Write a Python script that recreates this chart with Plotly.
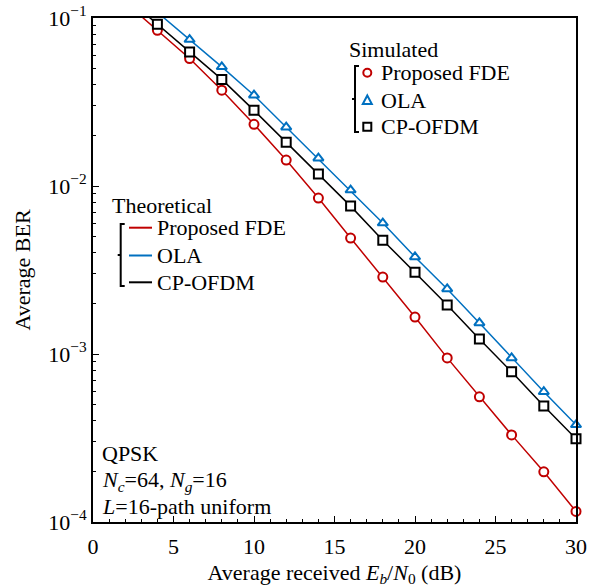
import plotly.graph_objects as go

# ---------------- data ----------------
snr_sim = [4, 6, 8, 10, 12, 14, 16, 18, 20, 22, 24, 26, 28, 30]
ber_sim_fde = [0.0845, 0.0574, 0.0372, 0.0233, 0.01426, 0.00848, 0.0049, 0.00287,
               0.00166, 0.000948, 0.000556, 0.000330, 0.000199, 0.0001156]
ber_sim_cp = [0.0917, 0.0628, 0.0431, 0.0282, 0.01823, 0.01177, 0.00759, 0.00476,
              0.00307, 0.00196, 0.00123, 0.000783, 0.000491, 0.000313]
snr_sim_ola = [6, 8, 10, 12, 14, 16, 18, 20, 22, 24, 26, 28, 30]
ber_sim_ola = [0.0744, 0.0512, 0.0347, 0.0224, 0.01465, 0.00946, 0.00602, 0.00378,
               0.00244, 0.00153, 0.000948, 0.000596, 0.000379]

snr_th = [2, 4, 6, 8, 10, 12, 14, 16, 18, 20, 22, 24, 26, 28, 30]
ber_th_fde = [0.124, 0.0845, 0.0574, 0.0372, 0.0233, 0.01426, 0.00848, 0.0049, 0.00287,
              0.00166, 0.000948, 0.000556, 0.000330, 0.000199, 0.0001156]
ber_th_ola = [0.157, 0.108, 0.0744, 0.0512, 0.0347, 0.0224, 0.01465, 0.00946, 0.00602,
              0.00378, 0.00244, 0.00153, 0.000948, 0.000596, 0.000379]
ber_th_cp = [0.134, 0.0917, 0.0628, 0.0431, 0.0282, 0.01823, 0.01177, 0.00759, 0.00476,
             0.00307, 0.00196, 0.00123, 0.000783, 0.000491, 0.000313]

y_tickvals = [1e-4, 1e-3, 1e-2, 1e-1]
y_ticktext = ["10<sup>\u22124</sup>", "10<sup>\u22123</sup>", "10<sup>\u22122</sup>", "10<sup>\u22121</sup>"]
x_tickvals = [0, 5, 10, 15, 20, 25, 30]

RED = "#C00000"
BLUE = "#0070C0"
BLACK = "#000000"
FONT = "Liberation Serif, Times New Roman, serif"
FS = 22

# ---------------- figure ----------------
W, H = 593, 588
L, R, T, B = 93, 17, 18, 66
pw, ph = W - L - R, H - T - B


def px(x):
    return (x - L) / pw


def py(y):
    return (H - B - y) / ph


fig = go.Figure()

for ys, c in [(ber_th_fde, RED), (ber_th_ola, BLUE), (ber_th_cp, BLACK)]:
    fig.add_trace(go.Scatter(x=snr_th, y=ys, mode="lines",
                             line=dict(color=c, width=1.5), showlegend=False,
                             cliponaxis=True))

for xs, ys, c, sym in [(snr_sim, ber_sim_fde, RED, "circle"),
                       (snr_sim_ola, ber_sim_ola, BLUE, "triangle-up"),
                       (snr_sim, ber_sim_cp, BLACK, "square")]:
    fig.add_trace(go.Scatter(x=xs, y=ys, mode="markers",
                             marker=dict(symbol=sym, size=9, color="white",
                                         line=dict(color=c, width=2)),
                             showlegend=False, cliponaxis=False))

minor_y = [m * 10 ** e for e in (-4, -3, -2) for m in range(2, 10)]

fig.update_xaxes(range=[0, 30], tickvals=x_tickvals, ticks="inside", ticklen=6,
                 tickwidth=1.2, tickcolor="black", showline=True, linewidth=2,
                 linecolor="black", mirror=True, showgrid=False, zeroline=False,
                 ticklabelstandoff=4,
                 tickfont=dict(family=FONT, size=FS, color="black"),
                 minor=dict(ticks="inside", ticklen=3, dtick=1, tickcolor="black",
                            tickwidth=1, showgrid=False),
                 title=dict(text="Average received <i>E</i><sub><i>b</i></sub>/<i>N</i><sub>0</sub> (dB)",
                            font=dict(family=FONT, size=FS, color="black"), standoff=6))
fig.update_yaxes(type="log", range=[-4, -1], tickvals=y_tickvals, ticktext=y_ticktext,
                 ticks="inside", ticklen=6, tickwidth=1.2, tickcolor="black",
                 showline=True, linewidth=2, linecolor="black", mirror=True,
                 showgrid=False, zeroline=False,
                 tickfont=dict(family=FONT, size=FS, color="black"),
                 minor=dict(ticks="inside", ticklen=3, tickvals=minor_y, tickcolor="black",
                            tickwidth=1, showgrid=False),
                 title=dict(text="Average BER", font=dict(family=FONT, size=FS, color="black"),
                            standoff=12))

shapes = []
ann = []


def text(x, y, s, size=FS):
    ann.append(dict(x=px(x), y=py(y), xref="paper", yref="paper", text=s, showarrow=False,
                    xanchor="left", yanchor="middle",
                    font=dict(family=FONT, size=size, color="black")))


def bracket(x, y0, y1):
    ym = (y0 + y1) / 2
    path = (f"M {px(x + 4)} {py(y0)} L {px(x)} {py(y0)} L {px(x)} {py(y1)} L {px(x + 4)} {py(y1)} "
            f"M {px(x - 3)} {py(ym)} L {px(x)} {py(ym)}")
    shapes.append(dict(type="path", path=path, xref="paper", yref="paper",
                       line=dict(color="black", width=2)))


# Simulated legend
text(347, 49, "Simulated")
bracket(355, 66, 132)
sim_rows = [(72.7, RED, "circle", "Proposed FDE"), (100.5, BLUE, "triangle", "OLA"),
            (126.7, BLACK, "square", "CP-OFDM")]
for y, c, sym, lab in sim_rows:
    cx = 367.3
    r = 4
    if sym == "circle":
        shapes.append(dict(type="circle", xref="paper", yref="paper",
                           x0=px(cx - r), x1=px(cx + r), y0=py(y - r), y1=py(y + r),
                           line=dict(color=c, width=2), fillcolor="white"))
    elif sym == "square":
        shapes.append(dict(type="rect", xref="paper", yref="paper",
                           x0=px(cx - 4), x1=px(cx + 4), y0=py(y - 4), y1=py(y + 4),
                           line=dict(color=c, width=2), fillcolor="white"))
    else:
        path = f"M {px(cx)} {py(y - 5)} L {px(cx + 4.5)} {py(y + 3.5)} L {px(cx - 4.5)} {py(y + 3.5)} Z"
        shapes.append(dict(type="path", path=path, xref="paper", yref="paper",
                           line=dict(color=c, width=2), fillcolor="white"))
    text(379, y, lab)

# Theoretical legend
text(110, 205, "Theoretical")
bracket(120.7, 224, 286)
for y, c, lab in [(227.7, RED, "Proposed FDE"), (255.5, BLUE, "OLA"), (282.3, BLACK, "CP-OFDM")]:
    shapes.append(dict(type="line", xref="paper", yref="paper", x0=px(129), x1=px(152),
                       y0=py(y), y1=py(y), line=dict(color=c, width=2)))
    text(155, y, lab)

# Parameters annotation
text(100, 453, "QPSK")
text(100, 481, "<i>N</i><sub><i>c</i></sub>=64, <i>N</i><sub><i>g</i></sub>=16")
text(100, 506, "<i>L</i>=16-path uniform")

fig.update_layout(width=W, height=H, margin=dict(l=L, r=R, t=T, b=B, autoexpand=False),
                  paper_bgcolor="white", plot_bgcolor="white",
                  shapes=shapes, annotations=ann, showlegend=False,
                  font=dict(family=FONT, size=FS, color="black"))

fig.write_html("out.html", config={"displayModeBar": False},
               post_script="document.body.style.margin='0';")
